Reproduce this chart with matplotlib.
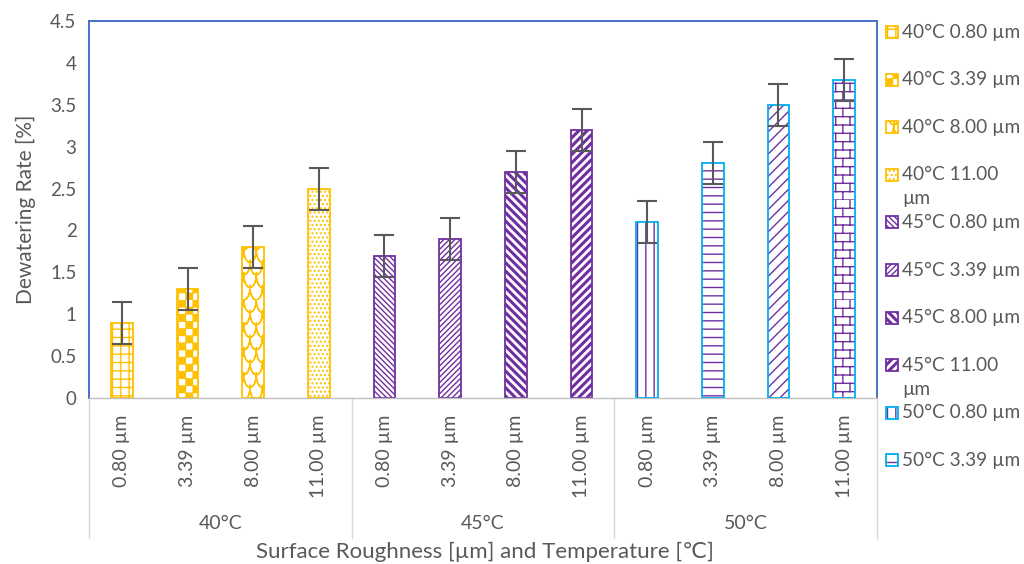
import numpy as np
import matplotlib
matplotlib.use("Agg")
import matplotlib.pyplot as plt
import matplotlib.hatch as mhatch
import matplotlib.transforms as mtransforms
from matplotlib.path import Path
from matplotlib.patches import Rectangle
from matplotlib.lines import Line2D
from matplotlib.ticker import FuncFormatter, MultipleLocator

# ---------------------------------------------------------------- data
temperatures = ["40°C", "45°C", "50°C"]
roughness = ["0.80 µm", "3.39 µm", "8.00 µm", "11.00 µm"]
dewatering_rate = [0.9, 1.3, 1.8, 2.5,
                   1.7, 1.9, 2.7, 3.2,
                   2.1, 2.8, 3.5, 3.8]
rate_error = [0.25, 0.25, 0.25, 0.25,
              0.25, 0.25, 0.25, 0.25,
              0.25, 0.25, 0.25, 0.25]
legend_labels = ["40°C 0.80 µm", "40°C 3.39 µm", "40°C 8.00 µm", "40°C 11.00\nµm",
                 "45°C 0.80 µm", "45°C 3.39 µm", "45°C 8.00 µm", "45°C 11.00\nµm",
                 "50°C 0.80 µm", "50°C 3.39 µm"]

# ---------------------------------------------------------------- styling
ORANGE = "#FFC000"
PURPLE = "#7030A0"
CYAN = "#00B0F0"
TEXT = "#595959"
GRID_GRAY = "#D9D9D9"
FRAME_BLUE = "#4472C4"

hatch_color = {"40°C": ORANGE, "45°C": PURPLE, "50°C": PURPLE}
edge_color = {"40°C": ORANGE, "45°C": PURPLE, "50°C": CYAN}
patterns = ["++", "C", "S", "....",
            "\\\\\\\\\\\\", "//////", "WW", "NN",
            "||", "--", "///", "B"]


# ---------------------------------------------------------------- extra hatch patterns
class _Checker(mhatch.HatchPatternBase):
    """Checkerboard of filled squares."""
    def __init__(self, hatch, density):
        self.n = 14 if "C" in hatch else 0
        self.cells = [(i, j) for i in range(self.n) for j in range(self.n)
                      if (i + j) % 2 == 0]
        self.num_vertices = 5 * len(self.cells)

    def set_vertices_and_codes(self, vertices, codes):
        s = 1.0 / self.n
        d = 0.003
        for k, (i, j) in enumerate(self.cells):
            x0, y0 = i * s + d, j * s + d
            x1, y1 = (i + 1) * s - d, (j + 1) * s - d
            vertices[5 * k:5 * k + 5] = [(x0, y0), (x1, y0), (x1, y1), (x0, y1), (x0, y0)]
            codes[5 * k:5 * k + 5] = [Path.MOVETO, Path.LINETO, Path.LINETO,
                                      Path.LINETO, Path.CLOSEPOLY]


class _Brick(mhatch.HatchPatternBase):
    """Horizontal brick courses."""
    rows, cols = 12, 7

    def __init__(self, hatch, density):
        on = "B" in hatch
        self.num_vertices = (2 * self.rows + 2 * self.rows * self.cols) if on else 0

    def set_vertices_and_codes(self, vertices, codes):
        segs = []
        for j in range(self.rows):
            y = j / self.rows
            segs.append(((0.0, y), (1.0, y)))
        for j in range(self.rows):
            y0, y1 = j / self.rows, (j + 1) / self.rows
            for i in range(self.cols):
                x = (i + 0.5 * (j % 2)) / self.cols
                segs.append(((x, y0), (x, y1)))
        segs = np.array(segs).reshape(-1, 2)
        vertices[:] = segs
        codes[0::2] = Path.MOVETO
        codes[1::2] = Path.LINETO


class _Scallop(mhatch.HatchPatternBase):
    """Overlapping scale-like arcs (each arc traced out and back so it has no area)."""
    rows, cols, pts = 8, 8, 9

    def __init__(self, hatch, density):
        on = "S" in hatch
        self.per_arc = 2 * self.pts - 1
        self.num_vertices = self.rows * (self.cols + 1) * self.per_arc if on else 0

    def set_vertices_and_codes(self, vertices, codes):
        w = 1.0 / self.cols
        h = 1.0 / self.rows
        t = np.linspace(0, np.pi, self.pts)
        t = np.concatenate([t, t[-2::-1]])
        m = self.per_arc
        k = 0
        for j in range(self.rows):
            off = 0.5 * w * (j % 2)
            for i in range(-1, self.cols):
                x0 = i * w + off
                y0 = j * h
                vertices[k:k + m, 0] = x0 + 0.5 * w * (1 - np.cos(t))
                vertices[k:k + m, 1] = y0 + h * (1 - np.sin(t))
                codes[k] = Path.MOVETO
                codes[k + 1:k + m] = Path.LINETO
                k += m


class _WideStripes(mhatch.HatchPatternBase):
    """Wide diagonal stripes drawn as filled bands."""
    char = "N"
    rising = True
    width = 0.024

    def __init__(self, hatch, density):
        self.n = hatch.count(self.char) * density
        self.num_vertices = 5 * (2 * self.n + 1) if self.n else 0

    def set_vertices_and_codes(self, vertices, codes):
        n, w = self.n, self.width
        for idx, k in enumerate(range(-n, n + 1)):
            if self.rising:
                c = k / n
                poly = [(c - 1, -1), (c + 2, 2), (c + 2 + w, 2), (c - 1 + w, -1), (c - 1, -1)]
            else:
                c = k / n + 1.0
                poly = [(c + 1, -1), (c - 2, 2), (c - 2 + w, 2), (c + 1 + w, -1), (c + 1, -1)]
            vertices[5 * idx:5 * idx + 5] = poly
            codes[5 * idx:5 * idx + 5] = [Path.MOVETO, Path.LINETO, Path.LINETO,
                                          Path.LINETO, Path.CLOSEPOLY]


class _WideStripesFalling(_WideStripes):
    char = "W"
    rising = False


mhatch._hatch_types.extend([_Checker, _Brick, _Scallop, _WideStripes, _WideStripesFalling])
mhatch._validate_hatch_pattern = lambda hatch: None

plt.rcParams["font.family"] = ["Lato", "DejaVu Sans"]
plt.rcParams["hatch.linewidth"] = 1.0

# ---------------------------------------------------------------- figure
fig = plt.figure(figsize=(10.24, 5.64), dpi=100)
ax = fig.add_axes([89 / 1024, 166 / 564, 788 / 1024, 377 / 564])

n_groups, n_sub = len(temperatures), len(roughness)
x = np.arange(n_groups * n_sub)
group_of = [temperatures[i // n_sub] for i in x]
bar_w = 0.335

for xi, val, pat, grp in zip(x, dewatering_rate, patterns, group_of):
    if grp == "50°C":
        b = ax.bar(xi, val, width=bar_w, facecolor="white",
                   edgecolor=hatch_color[grp], linewidth=0, zorder=2)
        b[0].set_hatch(pat)
        ax.bar(xi, val, width=bar_w, facecolor="none",
               edgecolor=edge_color[grp], linewidth=1.3, zorder=3)
    else:
        b = ax.bar(xi, val, width=bar_w, facecolor="white",
                   edgecolor=edge_color[grp], linewidth=1.3, zorder=2)
        b[0].set_hatch(pat)

ax.errorbar(x, dewatering_rate, yerr=rate_error, fmt="none", ecolor=TEXT,
            elinewidth=1.5, capsize=7, capthick=1.5, zorder=4)

ax.set_xlim(-0.5, len(x) - 0.5)
ax.set_ylim(0, 4.5)
ax.yaxis.set_major_locator(MultipleLocator(0.5))
ax.yaxis.set_major_formatter(FuncFormatter(lambda v, _: f"{v:g}"))
ax.tick_params(axis="y", length=0, pad=9, labelsize=13.5, labelcolor=TEXT)
ax.set_xticks(x)
ax.set_xticklabels([roughness[i % n_sub] for i in x], rotation=90, va="top")
ax.tick_params(axis="x", length=0, pad=12, labelsize=14, labelcolor=TEXT)

for side in ("left", "top", "right"):
    ax.spines[side].set_color(FRAME_BLUE)
    ax.spines[side].set_linewidth(1.4)
ax.spines["bottom"].set_color("#BFBFBF")
ax.spines["bottom"].set_linewidth(1.0)

ax.set_ylabel("Dewatering Rate [%]", fontsize=15, color=TEXT, labelpad=10)

# group axis: separators and temperature labels under the roughness labels
trans = mtransforms.blended_transform_factory(ax.transData, ax.transAxes)
for g in range(n_groups + 1):
    xs = g * n_sub - 0.5
    ax.add_line(Line2D([xs, xs], [0, -0.372], transform=trans, color=GRID_GRAY,
                       linewidth=1.0, clip_on=False))
for g, name in enumerate(temperatures):
    ax.text(g * n_sub + (n_sub - 1) / 2, -0.332, name, transform=trans,
            ha="center", va="center", fontsize=14, color=TEXT)

fig.text(485 / 1024, 1 - 552 / 564, "Surface Roughness [µm] and Temperature [℃]",
         ha="center", va="center", fontsize=16, color=TEXT)

# legend column on the right
row_y0, row_dy, sq = 32, 47.6, 12
for i, lab in enumerate(legend_labels):
    yc = row_y0 + i * row_dy
    grp = group_of[i]
    rect_xy = (886 / 1024, 1 - (yc + sq / 2) / 564)
    rw, rh = sq / 1024, sq / 564
    if grp == "50°C":
        hr = Rectangle(rect_xy, rw, rh, transform=fig.transFigure, facecolor="white",
                       edgecolor=hatch_color[grp], linewidth=0)
        hr.set_hatch(patterns[i])
        fig.add_artist(hr)
        fig.add_artist(Rectangle(rect_xy, rw, rh, transform=fig.transFigure,
                                 facecolor="none", edgecolor=edge_color[grp], linewidth=1.3))
    else:
        hr = Rectangle(rect_xy, rw, rh, transform=fig.transFigure, facecolor="white",
                       edgecolor=edge_color[grp], linewidth=1.3)
        hr.set_hatch(patterns[i])
        fig.add_artist(hr)
    lines = lab.split("\n")
    for j, line in enumerate(lines):
        fig.text(902 / 1024, 1 - (yc + j * 24) / 564, line, ha="left", va="center",
                 fontsize=13.7, color=TEXT)

fig.savefig("out.png", dpi=100, facecolor="white")
